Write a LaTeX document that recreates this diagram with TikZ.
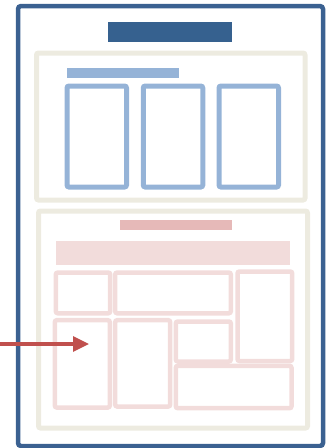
\documentclass[tikz,border=0pt]{standalone}
\usetikzlibrary{arrows.meta}
\definecolor{frameblue}{HTML}{3B6191}
\definecolor{titleblue}{HTML}{36618F}
\definecolor{paleblue}{HTML}{95B3D7}
\definecolor{beige}{HTML}{EDEBE0}
\definecolor{rosebar}{HTML}{E6B9B8}
\definecolor{palerose}{HTML}{F2DCDB}
\definecolor{arrowred}{HTML}{C0504D}
\begin{document}
\begin{tikzpicture}[
  x=1pt, y=-1pt,
  page/.style={draw=frameblue, line width=4.5pt, rounded corners=3pt, inner sep=0pt},
  panel/.style={draw=beige, line width=5pt, rounded corners=2pt, inner sep=0pt},
  titlebar/.style={fill=#1, inner sep=0pt},
  colbox/.style={draw=paleblue, line width=5pt, rounded corners=2pt, inner sep=0pt},
  cell/.style={draw=palerose, line width=4.5pt, rounded corners=2pt, inner sep=0pt},
  >={Triangle[length=16pt, width=15pt]}
]
\useasboundingbox (0,0) rectangle (331,448);

% outer page
\node[page, minimum width=305pt, minimum height=440pt] (page) at (170.5,226) {};
\node[titlebar=titleblue, minimum width=124pt, minimum height=20pt] (title) at (170,32) {};

% upper panel
\node[panel, minimum width=268.5pt, minimum height=147pt] (upper) at (170.75,126.5) {};
\node[titlebar=paleblue, minimum width=112pt, minimum height=9.7pt] (uptitle) at (123,72.8) {};
\node[colbox, minimum width=59.5pt, minimum height=101pt] (col1) at (96.75,136.5) {};
\node[colbox, minimum width=59.5pt, minimum height=101pt] (col2) at (173,136.5) {};
\node[colbox, minimum width=59.5pt, minimum height=101pt] (col3) at (248.75,136.5) {};

% lower panel
\node[panel, minimum width=269pt, minimum height=217pt] (lower) at (173,319.5) {};
\node[titlebar=rosebar, minimum width=112pt, minimum height=10pt] (lowtitle) at (176,225) {};
\node[titlebar=palerose, minimum width=234pt, minimum height=24pt] (banner) at (173,253) {};
\node[cell, minimum width=54.4pt, minimum height=40.7pt] (cellA) at (83,292.9) {};
\node[cell, minimum width=115.6pt, minimum height=40.7pt] (cellB) at (173,292.9) {};
\node[cell, minimum width=54.7pt, minimum height=89.5pt] (cellC) at (264.85,316.25) {};
\node[cell, minimum width=55pt, minimum height=87.3pt] (cellD) at (82.3,363.85) {};
\node[cell, minimum width=55pt, minimum height=86.3pt] (cellE) at (142.7,363.35) {};
\node[cell, minimum width=55pt, minimum height=40pt] (cellF) at (203.3,341.5) {};
\node[cell, minimum width=115.7pt, minimum height=42.4pt] (cellG) at (233.65,387) {};

% pointer
\coordinate (src) at (0,344);
\coordinate (tip) at (89,344);
\draw[->, arrowred, line width=3.3pt] (src) -- (tip);
\end{tikzpicture}
\end{document}
